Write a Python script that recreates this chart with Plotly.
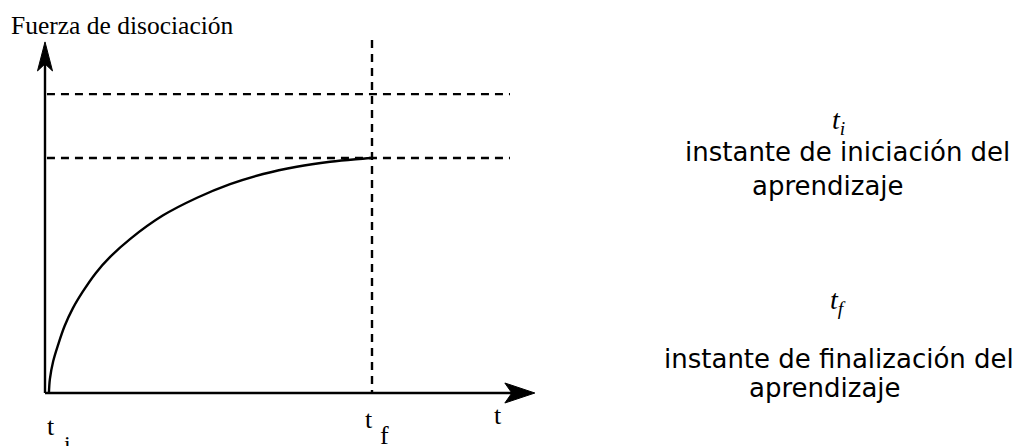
import plotly.graph_objects as go

# ---------------- data (abstract units: t in time units, F in plateau units) ----------------
t_curve = [0.12, 0.15, 0.25, 0.40, 0.60, 0.85, 1.15, 1.55, 2.00, 2.60, 3.60,
           4.65, 5.66, 6.67, 7.70, 8.72, 9.50, 10.0]
F_curve = [0.0, 0.06, 0.135, 0.205, 0.285, 0.36, 0.43, 0.51, 0.58, 0.655,
           0.755, 0.831, 0.889, 0.932, 0.963, 0.984, 0.995, 1.0]
t_i = 0.0
t_f = 10.0
F_plateau = 1.0
F_upper = 1.272
t_axis_end = 14.98
F_axis_end = 1.494
t_dash_end = 14.22
F_vdash_end = 1.502

y_title = "Fuerza de disociación"
x_title = "t"
legend_lines = [
    ("<i>t<sub>i</sub></i>", "instante de iniciación del", "aprendizaje"),
    ("<i>t<sub>f</sub></i>", "instante de finalización del", "aprendizaje"),
]

# ---------------- layout geometry ----------------
W, H = 1015, 446
X0, SX = 45.0, 32.7     # pixel of t=0, pixels per t unit
Y0, SY = 393.0, 235.0   # pixel of F=0, pixels per F unit

def px2t(p):
    return (p - X0) / SX

def px2F(p):
    return (Y0 - p) / SY

def paper(xp, yp):
    return xp / W, 1 - yp / H

fig = go.Figure()

LW = 2.4
fig.add_trace(go.Scatter(x=t_curve, y=F_curve, mode="lines",
                         line=dict(color="black", width=LW, shape="spline", smoothing=1.0),
                         hoverinfo="skip", showlegend=False))

shapes = []
dash = "8px,6px"
# dashed guides
shapes.append(dict(type="line", xref="x", yref="y", x0=t_i + 0.06, x1=t_dash_end,
                   y0=F_upper, y1=F_upper, line=dict(color="black", width=LW, dash=dash)))
shapes.append(dict(type="line", xref="x", yref="y", x0=t_i + 0.06, x1=t_dash_end,
                   y0=F_plateau, y1=F_plateau, line=dict(color="black", width=LW, dash=dash)))
shapes.append(dict(type="line", xref="x", yref="y", x0=t_f, x1=t_f,
                   y0=F_vdash_end, y1=0, line=dict(color="black", width=LW, dash=dash)))
# axes
shapes.append(dict(type="line", xref="x", yref="y", x0=t_i, x1=t_i, y0=0,
                   y1=F_axis_end - 20 / SY, line=dict(color="black", width=LW)))
shapes.append(dict(type="line", xref="x", yref="y", x0=t_i, x1=t_axis_end - 20 / SX,
                   y0=0, y1=0, line=dict(color="black", width=LW)))
# arrow heads (dart shaped)
vt, vF = t_i, F_axis_end
vpath = (f"M {vt},{vF} L {vt - 7.5 / SX},{vF - 29 / SY} L {vt},{vF - 22 / SY} "
         f"L {vt + 7.5 / SX},{vF - 29 / SY} Z")
ht, hF = t_axis_end, 0.0
hpath = (f"M {ht},{hF} L {ht - 30 / SX},{hF + 10 / SY} L {ht - 23 / SX},{hF} "
         f"L {ht - 30 / SX},{hF - 10 / SY} Z")
for p in (vpath, hpath):
    shapes.append(dict(type="path", xref="x", yref="y", path=p,
                       fillcolor="black", line=dict(color="black", width=1)))

ann = []
def text(xp, yp, s, size, family, xanchor="center", yanchor="middle"):
    x, y = paper(xp, yp)
    ann.append(dict(x=x, y=y, xref="paper", yref="paper", text=s, showarrow=False,
                    xanchor=xanchor, yanchor=yanchor,
                    font=dict(family=family, size=size, color="black")))

SERIF = "Liberation Serif"
SANS = "DejaVu Sans"
text(9, 25, y_title, 25.5, SERIF, xanchor="left")
text(51, 426, "t", 26, SERIF)
text(67, 444, "i", 24, SERIF)
text(368.5, 419, "t", 26, SERIF)
text(384, 435, "f", 26, SERIF)
text(498, 415, x_title, 26, SERIF)

sym, l1, l2 = legend_lines[0]
text(838, 121, sym, 28, SERIF)
text(847, 152, l1, 26, SANS)
text(750, 186, l2, 26, SANS, xanchor="left")
sym, l1, l2 = legend_lines[1]
text(838, 301, sym, 28, SERIF)
text(839, 359, l1, 26, SANS)
text(747, 388, l2, 26, SANS, xanchor="left")

fig.update_layout(
    width=W, height=H, autosize=False,
    margin=dict(l=0, r=0, t=0, b=0),
    paper_bgcolor="white", plot_bgcolor="white",
    xaxis=dict(range=[px2t(0), px2t(W)], visible=False, fixedrange=True),
    yaxis=dict(range=[px2F(H), px2F(0)], visible=False, fixedrange=True),
    shapes=shapes, annotations=ann, showlegend=False,
)

fig.write_html("out.html", config={"displayModeBar": False},
               post_script="document.body.style.margin='0px';")
